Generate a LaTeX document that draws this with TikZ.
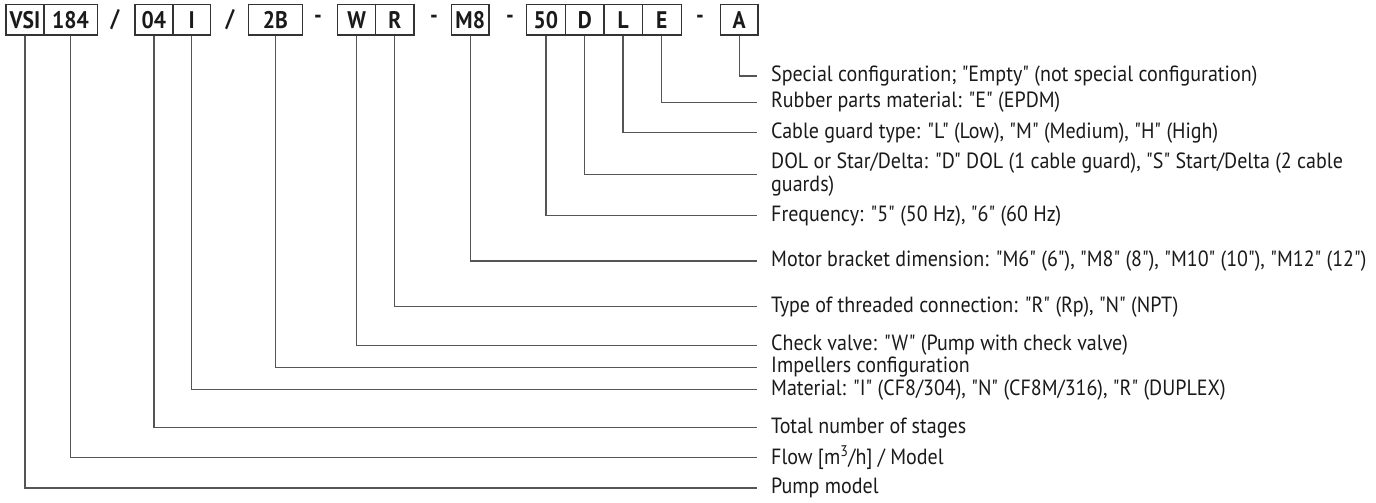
\documentclass[tikz,border=0pt]{standalone}
\usepackage{fontspec}
\setmainfont{PT Sans}[FakeStretch=0.91, Ligatures=TeXOff]
\newfontfamily\boxfont{PT Sans}[FakeStretch=0.9, Ligatures=TeXOff]
\definecolor{linec}{HTML}{555555}
\definecolor{boxc}{HTML}{333333}
\definecolor{txtc}{HTML}{1A1A1A}
\begin{document}
\begin{tikzpicture}[x=1pt,y=-1pt,
  box/.style={draw=boxc, line width=1.2pt, minimum height=30.5pt, inner sep=0pt, anchor=north west,
    font=\boxfont\fontsize{24}{24}\selectfont\bfseries, text=txtc},
  sepc/.style={inner sep=0pt, font=\boxfont\fontsize{24}{24}\selectfont\bfseries, text=txtc},
  lbl/.style={anchor=west, inner xsep=14pt, inner ysep=0pt, align=left,
    font=\fontsize{22}{23}\selectfont, text=txtc},
  conn/.style={draw=linec, line width=1.3pt}]
\useasboundingbox (0,0) rectangle (1376,503);
% code boxes
\node[box, minimum width=38pt]   (vsi) at (5.3,4)   {VSI};
\node[box, minimum width=53.4pt] (n184) at (43.3,4) {184};
\node[sepc] (s1) at (115,19.3) {/};
\node[box, minimum width=38pt]   (n04) at (134.3,4) {04};
\node[box, minimum width=37.7pt] (nI) at (172.3,4)  {I};
\node[sepc] (s2) at (230,19.3) {/};
\node[box, minimum width=54pt]   (n2B) at (247.7,4) {2B};
\node[sepc] (s3) at (318,19.3) {-};
\node[box, minimum width=38pt]   (nW) at (337,4)    {W};
\node[box, minimum width=38.3pt] (nR) at (375,4)    {R};
\node[sepc] (s4) at (434,19.3) {-};
\node[box, minimum width=37.3pt] (nM) at (451,4)    {M8};
\node[sepc] (s5) at (510,19.3) {-};
\node[box, minimum width=39.3pt] (n50) at (525.7,4) {50};
\node[box, minimum width=38.3pt] (nD) at (565,4)    {D};
\node[box, minimum width=38.4pt] (nL) at (603.3,4)  {L};
\node[box, minimum width=39pt]   (nE) at (641.7,4)  {E};
\node[sepc] (s6) at (700,19.3) {-};
\node[box, minimum width=37.3pt] (nA) at (720,4)    {A};
% labels
\node[lbl] (lA) at (757,76)    {Special configuration; "Empty" (not special configuration)};
\node[lbl] (lE) at (757,102.3) {Rubber parts material: "E" (EPDM)};
\node[lbl] (lL) at (757,132.7) {Cable guard type: "L" (Low), "M" (Medium), "H" (High)};
\node[lbl] (lD) at (757,174.3) {DOL or Star/Delta: "D" DOL (1 cable guard), "S" Start/Delta (2 cable\\guards)};
\node[lbl] (l50) at (757,215.7) {Frequency: "5" (50 Hz), "6" (60 Hz)};
\node[lbl] (lM) at (757,261)   {Motor bracket dimension: "M6" (6"), "M8" (8"), "M10" (10"), "M12" (12")};
\node[lbl] (lR) at (757,306.7) {Type of threaded connection: "R" (Rp), "N" (NPT)};
\node[lbl] (lW) at (757,345.3) {Check valve: "W" (Pump with check valve)};
\node[lbl] (l2B) at (757,367.3) {Impellers configuration};
\node[lbl] (lI) at (757,389.7) {Material: "I" (CF8/304), "N" (CF8M/316), "R" (DUPLEX)};
\node[lbl] (l04) at (757,427.7) {Total number of stages};
\node[lbl] (l184) at (757,457.7) {Flow [m\textsuperscript{3}/h] / Model};
\node[lbl] (lvsi) at (757,488)  {Pump model};
% connectors
\draw[conn] (nA.south) |- (lA.west);
\draw[conn] (nE.south) |- (lE.west);
\draw[conn] (nL.south) |- (lL.west);
\draw[conn] (nD.south) |- (lD.west);
\draw[conn] (n50.south) |- (l50.west);
\draw[conn] (nM.south) |- (lM.west);
\draw[conn] (nR.south) |- (lR.west);
\draw[conn] (nW.south) |- (lW.west);
\draw[conn] (n2B.south) |- (l2B.west);
\draw[conn] (nI.south) |- (lI.west);
\draw[conn] (n04.south) |- (l04.west);
\draw[conn] (n184.south) |- (l184.west);
\draw[conn] (vsi.south) |- (lvsi.west);
\end{tikzpicture}
\end{document}
